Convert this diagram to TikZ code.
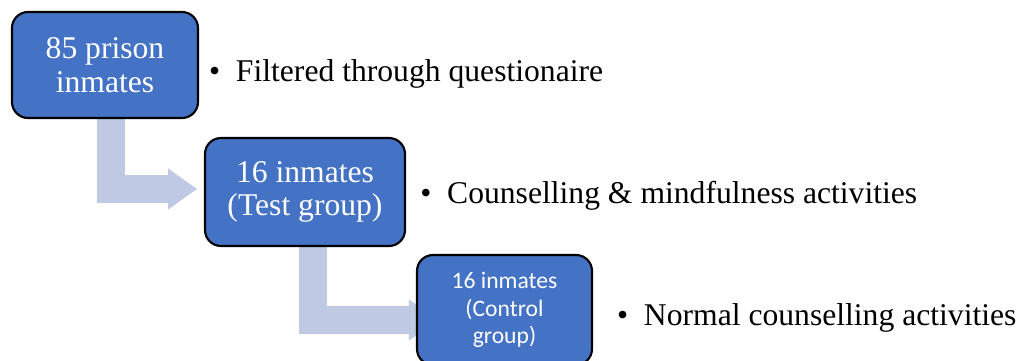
\documentclass[tikz,border=0pt]{standalone}
\usepackage{fontspec}
\setmainfont{Liberation Serif}
\newfontfamily\calibri{Carlito}
\usetikzlibrary{arrows.meta,backgrounds}
\definecolor{boxblue}{HTML}{4472C4}
\definecolor{arrowgrey}{RGB}{191,201,228}
\tikzset{
  stagebox/.style={draw=black, line width=1.5pt, fill=boxblue, rounded corners=0.4cm,
    text=white, align=center, inner sep=0pt, font=\fontsize{22.5}{24}\selectfont},
  bullettext/.style={anchor=west, inner sep=0pt, font=\fontsize{22.5}{24}\selectfont},
  bentarrow/.style={draw=arrowgrey, line width=0.7cm, line join=miter,
    -{Triangle[length=0.725cm,width=0.975cm]}},
}
\begin{document}
\begin{tikzpicture}
    \useasboundingbox (0,0) rectangle (25.5,9);
      \node[stagebox, minimum width=4.65cm, minimum height=2.65cm] (prison) at(2.625, 7.375){85 prison\\inmates};
      \node[stagebox, minimum width=5cm, minimum height=2.7cm] (test) at(7.625, 4.2){16 inmates\\(Test group)};
      \node[stagebox, minimum width=4.375cm, minimum height=2.75cm,
        font=\calibri\fontsize{16.8}{19.4}\selectfont] (control) at(12.6125, 1.25){16 inmates\\(Control\\group)};
      \node[bullettext] (filtered) at(5.22, 7.14){\textbullet\enspace Filtered through questionaire};
      \node[bullettext] (counselling) at(10.5, 4.1){\textbullet\enspace Counselling \& mindfulness activities};
      \node[bullettext] (normal) at(15.42, 1.04){\textbullet\enspace Normal counselling activities};
      % arrows behind the boxes
      \begin{scope}[on background layer]
        \draw[bentarrow] ([xshift=0.15cm]prison.south) |- ([xshift=-0.17cm, yshift=0.075cm]test.west);
        \draw[bentarrow] ([xshift=0.2cm]test.south) |- ([xshift=0.55cm, yshift=-0.25cm]control.west);
      \end{scope}
    \end{tikzpicture}
\end{document}
